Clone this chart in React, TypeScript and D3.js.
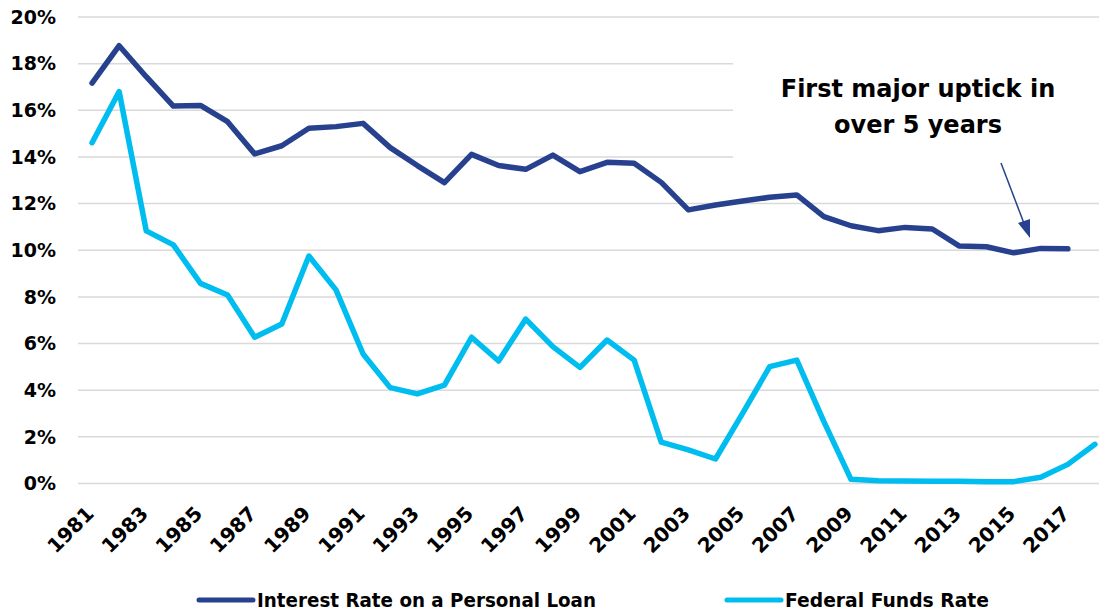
import * as d3 from "d3";

const years = d3.range(1981, 2019).map(String);
const loanRate = [
  17.17, 18.77, 17.44, 16.18, 16.21, 15.51, 14.13, 14.48, 15.23, 15.3, 15.44, 14.4,
  13.63, 12.9, 14.11, 13.63, 13.47, 14.08, 13.37, 13.77, 13.73, 12.91, 11.73, 11.94,
  12.11, 12.27, 12.37, 11.44, 11.05, 10.84, 10.98, 10.91, 10.18, 10.15, 9.89, 10.08,
  10.06,
];
const fedRate = [
  14.61, 16.8, 10.83, 10.23, 8.58, 8.08, 6.27, 6.84, 9.75, 8.3, 5.55, 4.11, 3.84,
  4.22, 6.27, 5.25, 7.05, 5.87, 4.98, 6.15, 5.29, 1.77, 1.44, 1.05, 3.01, 5.01, 5.29,
  2.65, 0.18, 0.12, 0.11, 0.1, 0.1, 0.08, 0.08, 0.27, 0.82, 1.68,
];
const yTicks = [0, 2, 4, 6, 8, 10, 12, 14, 16, 18, 20];
const xLabels = years.filter((_, i) => i % 2 === 0);
const seriesNames = ["Interest Rate on a Personal Loan", "Federal Funds Rate"];
const annotation = ["First major uptick in", "over 5 years"];

const W = 1099;
const H = 614;
const DARK = "#27418f";
const LIGHT = "#00bdf0";
const FONT = "'DejaVu Sans', sans-serif";

export default function App() {
  const x = d3.scalePoint<string>().domain(years).range([78.5, 1108.5]).padding(0.5);
  const y = d3.scaleLinear().domain([0, 20]).range([483.5, 17]);

  const line = d3
    .line<number>()
    .x((_, i) => x(years[i])!)
    .y((d) => y(d));

  return (
    <svg
      width={W}
      height={H}
      style={{ position: "absolute", left: 0, top: 0, background: "#fff" }}
    >
      {/* gridlines */}
      {yTicks.map((t) => (
        <line
          key={t}
          x1={78}
          x2={W}
          y1={y(t)}
          y2={y(t)}
          stroke="#d9d9d9"
          strokeWidth={1.5}
        />
      ))}

      {/* y labels */}
      {yTicks.map((t) => (
        <text
          key={"l" + t}
          x={56}
          y={y(t)}
          dy="0.36em"
          textAnchor="end"
          fontFamily={FONT}
          fontWeight="bold"
          fontSize={19}
          fill="#000"
        >
          {t}%
        </text>
      ))}

      {/* x labels */}
      {xLabels.map((yr) => (
        <text
          key={yr}
          transform={`translate(${x(yr)! + 3},${515}) rotate(-45)`}
          textAnchor="end"
          fontFamily={FONT}
          fontWeight="bold"
          fontSize={20}
          fill="#000"
        >
          {yr}
        </text>
      ))}

      {/* annotation backdrop */}
      <rect x={733} y={30} width={W - 733} height={160} fill="#fff" />

      <path
        d={line(fedRate) ?? ""}
        fill="none"
        stroke={LIGHT}
        strokeWidth={5.5}
        strokeLinejoin="round"
        strokeLinecap="round"
      />
      <path
        d={line(loanRate) ?? ""}
        fill="none"
        stroke={DARK}
        strokeWidth={5.5}
        strokeLinejoin="round"
        strokeLinecap="round"
      />

      {/* annotation */}
      {annotation.map((s, i) => (
        <text
          key={s}
          x={918}
          y={97 + i * 36}
          textAnchor="middle"
          fontFamily={FONT}
          fontWeight="bold"
          fontSize={24}
          fill="#000"
        >
          {s}
        </text>
      ))}
      <line x1={1001} y1={163} x2={1025} y2={226} stroke={DARK} strokeWidth={1.5} />
      <path d="M1030,238 L1018,223 L1030,219 Z" fill={DARK} />

      {/* legend */}
      {seriesNames.map((name, i) => {
        const lx = i === 0 ? 199 : 727;
        return (
          <g key={name}>
            <line
              x1={lx}
              x2={lx + 54}
              y1={600}
              y2={600}
              stroke={i === 0 ? DARK : LIGHT}
              strokeWidth={5}
              strokeLinecap="round"
            />
            <text
              x={lx + 58}
              y={600}
              dy="0.36em"
              fontFamily={FONT}
              fontWeight="bold"
              fontSize={19}
              textLength={i === 0 ? 339 : 204}
              lengthAdjust="spacingAndGlyphs"
              fill="#000"
            >
              {name}
            </text>
          </g>
        );
      })}
    </svg>
  );
}
